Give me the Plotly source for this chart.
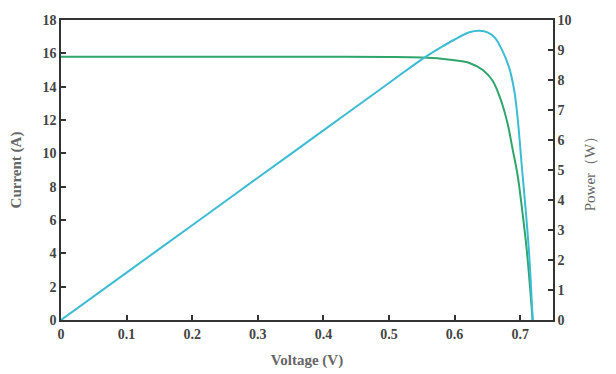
import plotly.graph_objects as go

# Data
voltage_i = [0, 0.1, 0.2, 0.3, 0.4, 0.5, 0.55, 0.58, 0.60, 0.6225, 0.643, 0.658, 0.671, 0.681, 0.688, 0.696, 0.703, 0.710, 0.719]
current = [15.8, 15.8, 15.8, 15.8, 15.79, 15.78, 15.75, 15.68, 15.58, 15.42, 15.0, 14.35, 13.14, 11.74, 10.34, 8.7, 6.6, 4.2, 0.0]

voltage_p = [0, 0.1, 0.2, 0.3, 0.4, 0.5, 0.55, 0.58, 0.60, 0.6225, 0.638, 0.651, 0.661, 0.673, 0.683, 0.691, 0.696, 0.702, 0.713, 0.719]
power = [0, 1.58, 3.16, 4.74, 6.32, 7.9, 8.69, 9.1, 9.35, 9.59, 9.64, 9.58, 9.42, 8.97, 8.42, 7.64, 6.75, 5.25, 2.4, 0.0]

x_ticks = [0, 0.1, 0.2, 0.3, 0.4, 0.5, 0.6, 0.7]

font_family = "Liberation Serif"
tick_font = dict(family=font_family, size=14, color="#444444", weight="bold")
title_font = dict(family=font_family, size=15, color="#666666")

fig = go.Figure()
fig.add_trace(go.Scatter(
    x=voltage_i, y=current, mode="lines", line=dict(color="#2fa56c", width=2, shape="spline", smoothing=1.0),
    name="Current", yaxis="y"))
fig.add_trace(go.Scatter(
    x=voltage_p, y=power, mode="lines", line=dict(color="#3bbcd3", width=2, shape="spline", smoothing=1.0),
    name="Power", yaxis="y2"))

axis_common = dict(showgrid=False, zeroline=False, showline=True, linecolor="#333333", linewidth=1.5,
                   ticks="inside", ticklen=5, tickwidth=1.5, tickcolor="#333333", tickfont=tick_font,
                   automargin=False)

fig.update_layout(
    width=608, height=366,
    margin=dict(l=53, r=63, t=12, b=54),
    paper_bgcolor="white", plot_bgcolor="white",
    showlegend=False,
    xaxis=dict(range=[0, 0.75], tickvals=x_ticks, mirror=True,
               title=dict(text="<b>Voltage (V)</b>", font=title_font, standoff=14), **axis_common),
    yaxis=dict(range=[0, 18], dtick=2, title=dict(text="<b>Current (A)</b>", font=title_font, standoff=18),
               **axis_common),
    yaxis2=dict(range=[0, 10], dtick=1, overlaying="y", side="right",
                title=dict(text="Power（W）", font=title_font, standoff=14), **axis_common),
)

fig.write_html("out.html")
